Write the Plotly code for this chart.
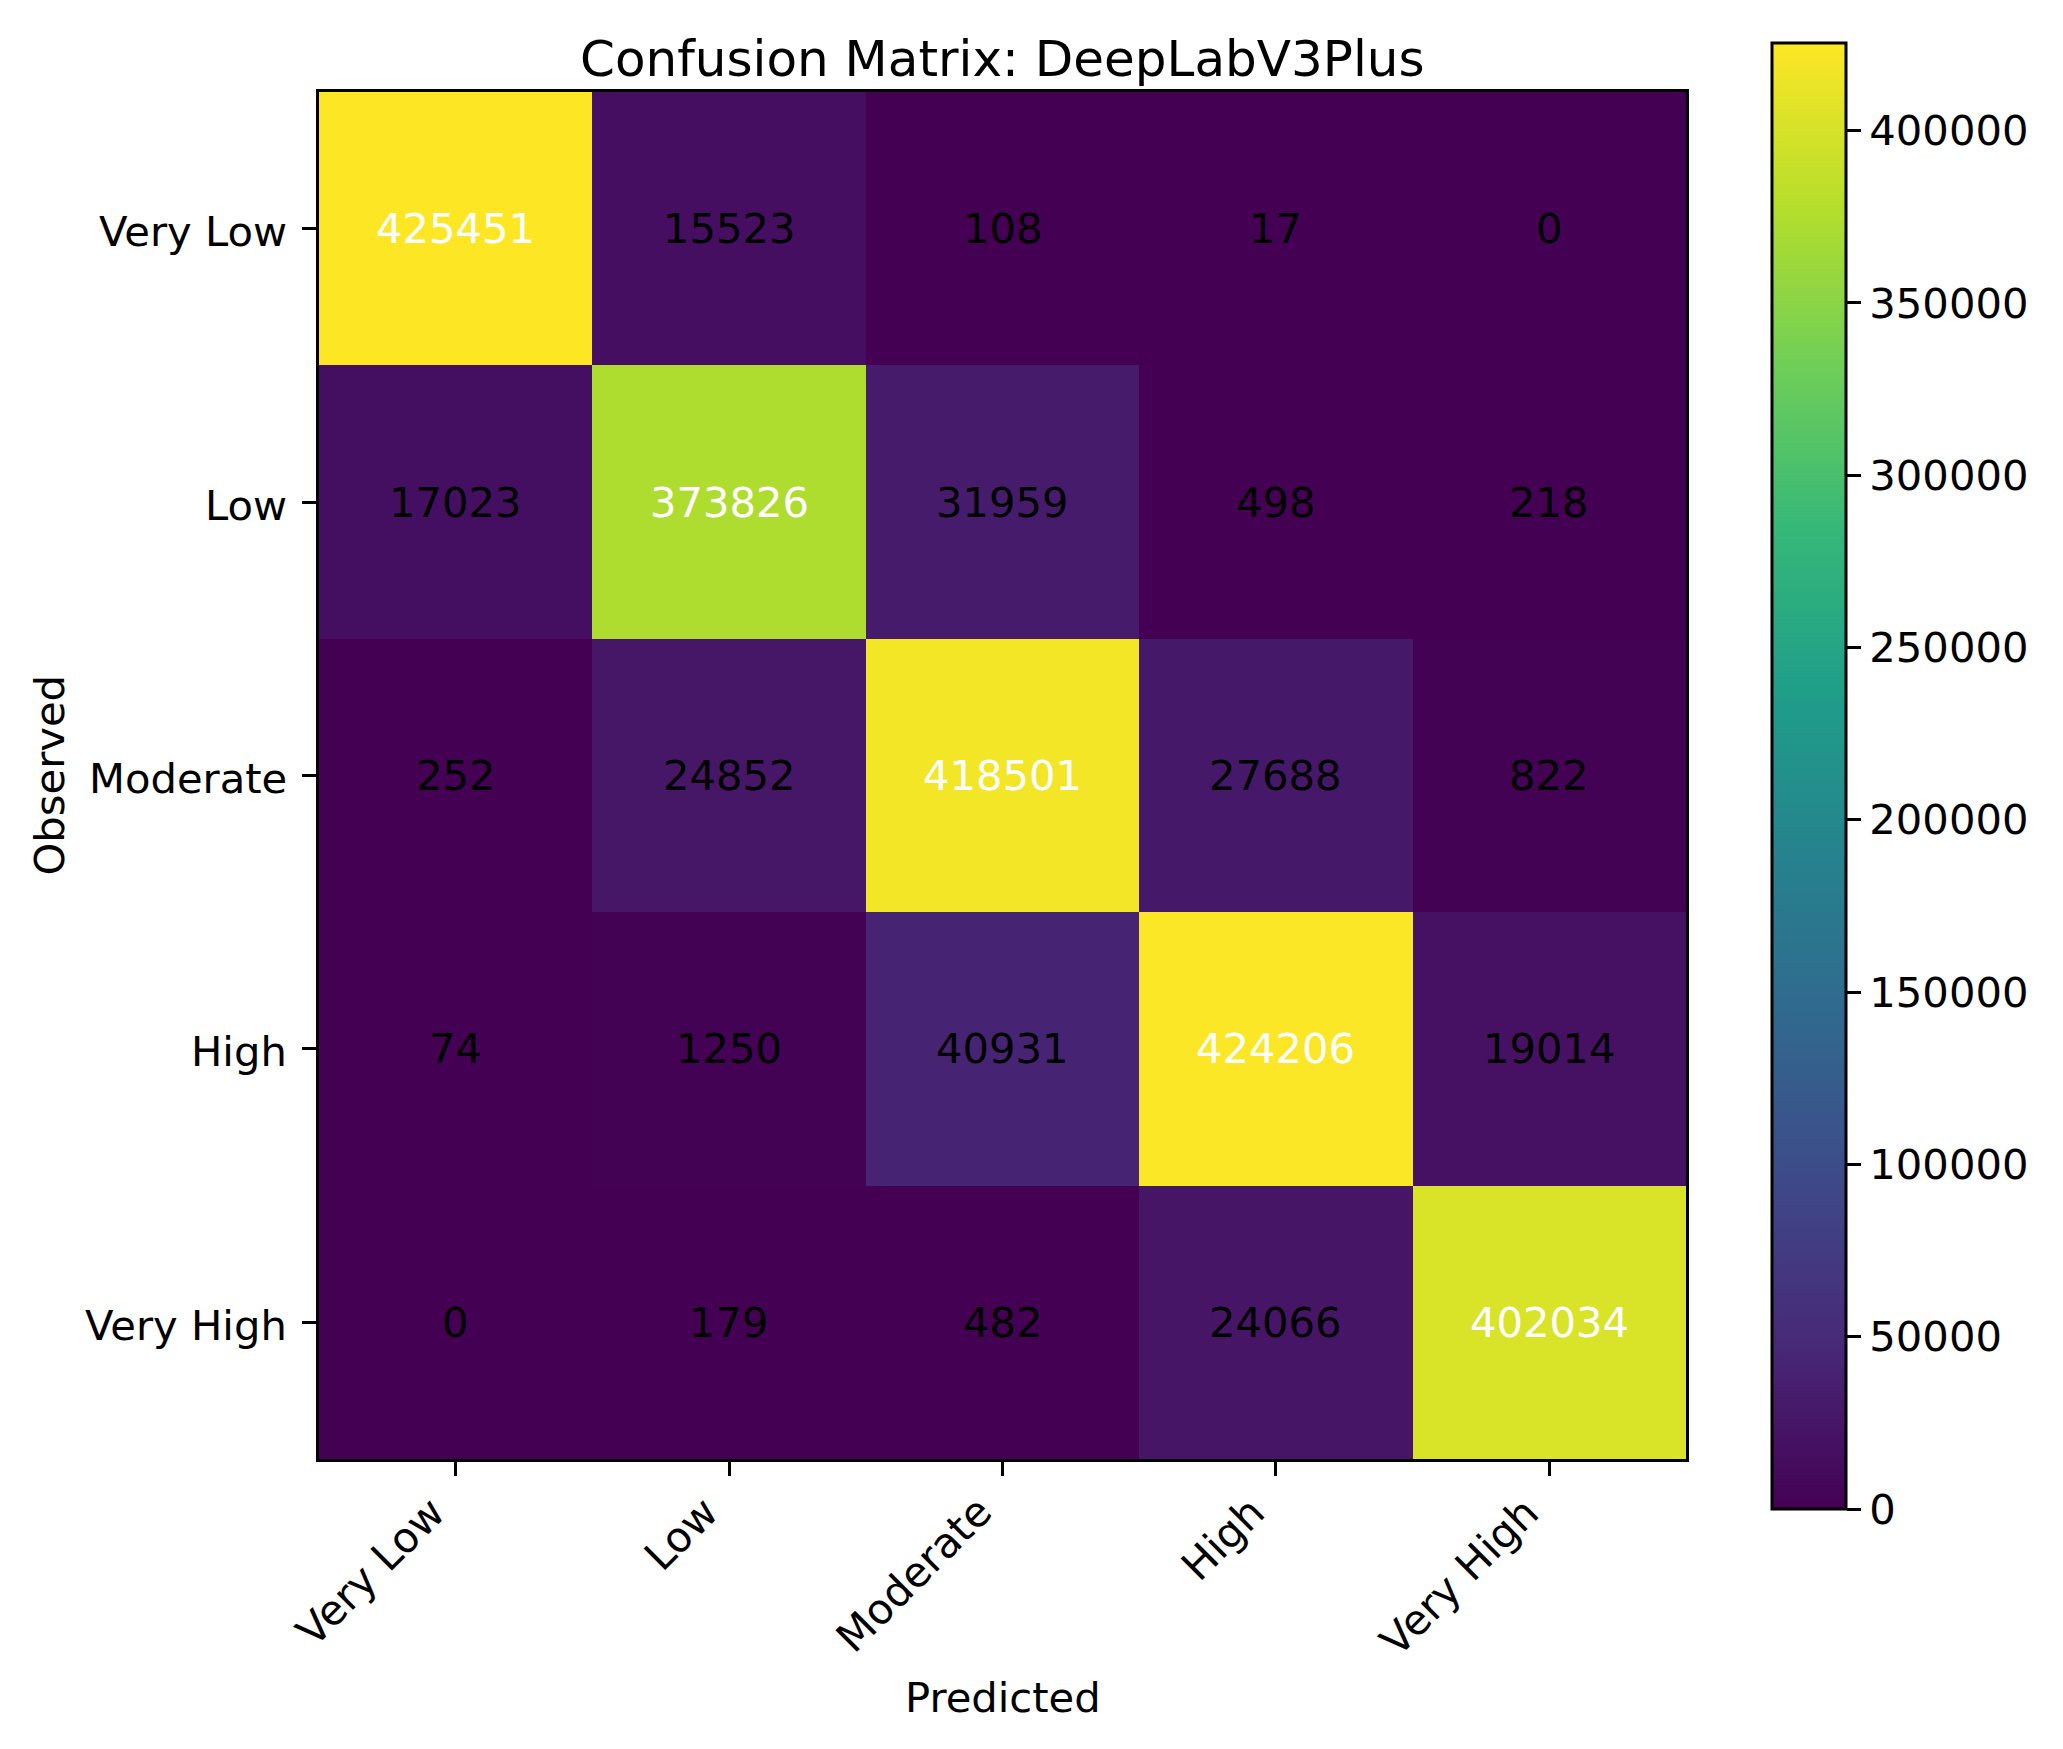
import plotly.graph_objects as go

W, H = 2063, 1749

classes = ["Very Low", "Low", "Moderate", "High", "Very High"]
matrix = [
    [425451, 15523, 108, 17, 0],
    [17023, 373826, 31959, 498, 218],
    [252, 24852, 418501, 27688, 822],
    [74, 1250, 40931, 424206, 19014],
    [0, 179, 482, 24066, 402034],
]
cbar_ticks = [0, 50000, 100000, 150000, 200000, 250000, 300000, 350000, 400000]
title = "Confusion Matrix: DeepLabV3Plus"
xlabel = "Predicted"
ylabel = "Observed"

FONT = "DejaVu Sans"
FS = 41.7

# layout geometry (pixels)
px_l, px_r, px_t, px_b = 319, 1686, 92, 1459
cb_l, cb_r, cb_t, cb_b = 1772, 1846, 43, 1509

zmax = max(max(r) for r in matrix)
thresh = zmax / 2.0
n = len(classes)

fig = go.Figure()
fig.add_trace(go.Heatmap(
    z=matrix, x=classes, y=classes,
    colorscale="Viridis", zmin=0, zmax=zmax,
    showscale=True,
    colorbar=dict(
        x=cb_l / W, xanchor="left", xpad=0,
        y=1 - cb_t / H, yanchor="top", ypad=0,
        len=(cb_b - cb_t) / H, lenmode="fraction",
        thickness=cb_r - cb_l, thicknessmode="pixels",
        outlinewidth=3, outlinecolor="black",
        tickmode="array", tickvals=cbar_ticks,
        ticktext=[str(v) for v in cbar_ticks],
        ticks="outside", ticklen=14, tickwidth=3, tickcolor="black",
        tickfont=dict(family=FONT, size=FS, color="black"),
    ),
    hoverinfo="skip",
))

annotations = []
for i, row in enumerate(matrix):
    for j, v in enumerate(row):
        annotations.append(dict(
            x=classes[j], y=classes[i], xref="x", yref="y",
            text=str(v), showarrow=False,
            font=dict(family=FONT, size=FS, color="white" if v > thresh else "black"),
        ))

# rotated x tick labels (right/top anchored like matplotlib ha='right')
for c in classes:
    annotations.append(dict(
        x=c, xref="x", y=1 - 1486 / H, yref="paper",
        text=c, showarrow=False, textangle=-45,
        xanchor="right", yanchor="top", borderpad=0,
        font=dict(family=FONT, size=FS, color="black"),
    ))

# y tick labels (right aligned, baseline-centred like matplotlib)
for c in classes:
    annotations.append(dict(
        x=288 / W, xref="paper", y=c, yref="y", yshift=-3,
        text=c, showarrow=False,
        xanchor="right", yanchor="middle", borderpad=0,
        font=dict(family=FONT, size=FS, color="black"),
    ))

annotations.append(dict(
    x=(px_l + px_r) / 2 / W, y=1 - 59 / H, xref="paper", yref="paper",
    text=title, showarrow=False, xanchor="center", yanchor="middle",
    font=dict(family=FONT, size=50, color="black"),
))
annotations.append(dict(
    x=(px_l + px_r) / 2 / W, y=1 - 1697 / H, xref="paper", yref="paper",
    text=xlabel, showarrow=False, xanchor="center", yanchor="middle",
    font=dict(family=FONT, size=FS, color="black"),
))
annotations.append(dict(
    x=49 / W, y=1 - (px_t + px_b) / 2 / H, xref="paper", yref="paper",
    text=ylabel, showarrow=False, xanchor="center", yanchor="middle", textangle=-90,
    font=dict(family=FONT, size=FS, color="black"),
))

fig.update_layout(
    width=W, height=H,
    margin=dict(l=0, r=0, t=0, b=0, autoexpand=False),
    paper_bgcolor="white", plot_bgcolor="white",
    font=dict(family=FONT, size=FS, color="black"),
    annotations=annotations,
    xaxis=dict(
        domain=[px_l / W, px_r / W], automargin=False,
        type="category", categoryorder="array", categoryarray=classes,
        range=[-0.5, n - 0.5], autorange=False,
        ticks="outside", ticklen=14, tickwidth=3, tickcolor="black",
        showline=True, linewidth=3, linecolor="black", mirror=True,
        showticklabels=False,
        showgrid=False, zeroline=False,
    ),
    yaxis=dict(
        domain=[1 - px_b / H, 1 - px_t / H], automargin=False,
        type="category", categoryorder="array", categoryarray=classes,
        range=[n - 0.5, -0.5], autorange=False,
        ticks="outside", ticklen=14, tickwidth=3, tickcolor="black",
        showline=True, linewidth=3, linecolor="black", mirror=True,
        showticklabels=False,
        showgrid=False, zeroline=False,
    ),
)

fig.write_html("out.html")
